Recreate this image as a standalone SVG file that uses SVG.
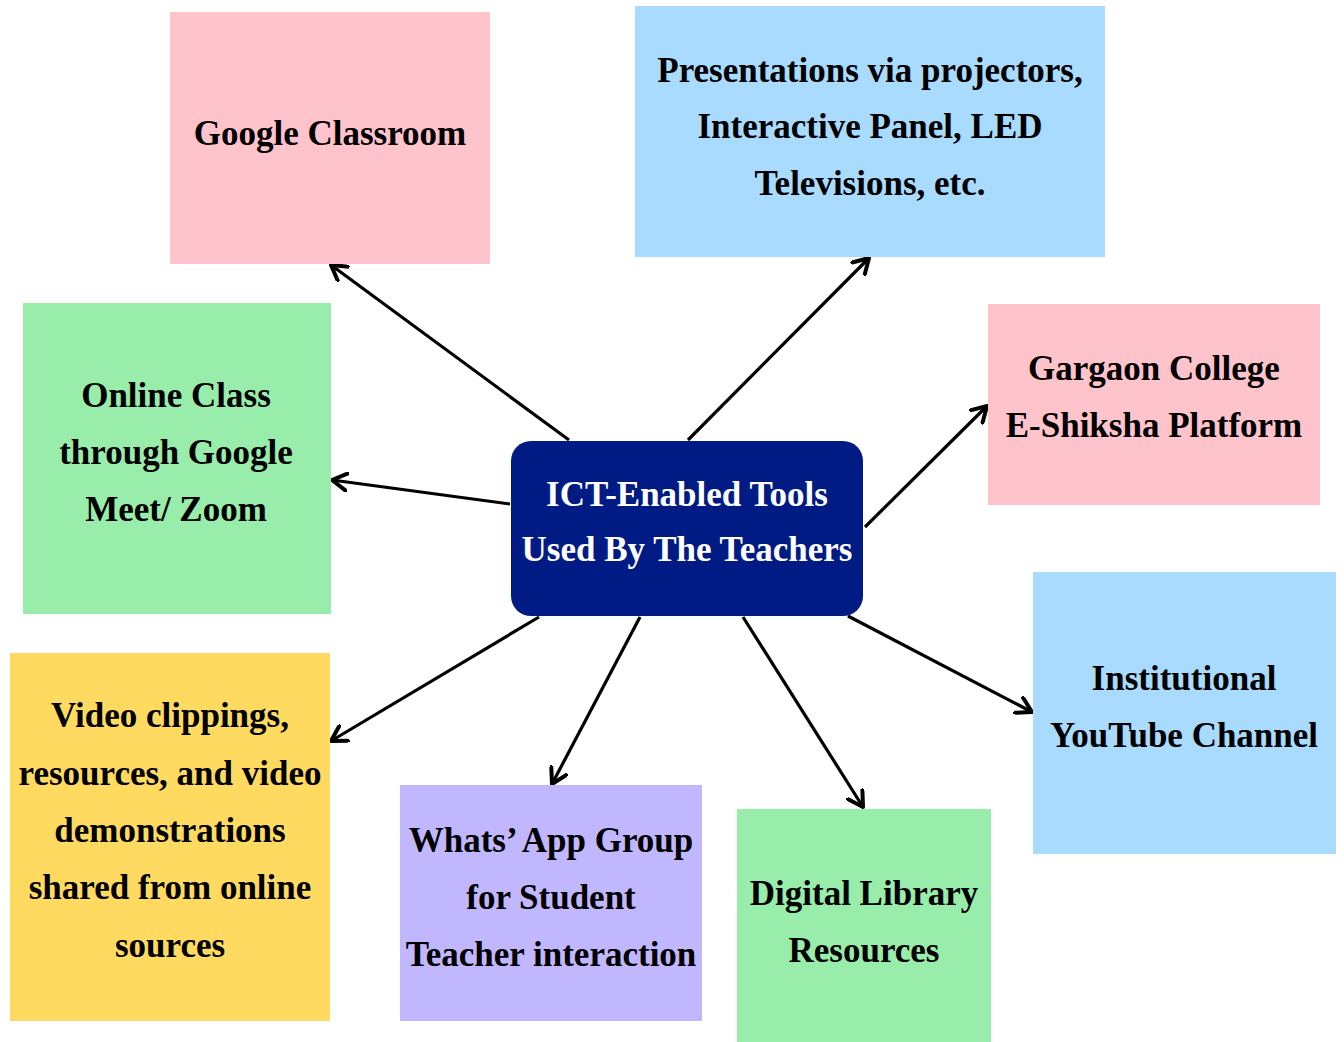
<svg xmlns="http://www.w3.org/2000/svg" width="1344" height="1042" viewBox="0 0 1344 1042">
<style>
.t{font-family:"Liberation Serif","Times New Roman",serif;font-weight:bold;font-size:35px;fill:#000;text-anchor:middle}
.w{fill:#fff}
.c{stroke:#000;stroke-width:3.2;fill:none}
</style>
<defs>
<marker id="ah" markerUnits="userSpaceOnUse" markerWidth="20" markerHeight="20" refX="13" refY="8" orient="auto" viewBox="0 0 16 16">
<path d="M1,1 L13,8 L1,15" fill="none" stroke="#000" stroke-width="3.2" stroke-linecap="round" stroke-linejoin="round"/>
</marker>
</defs>
<rect width="1344" height="1042" fill="#fff"/>
<g id="connectors">
<line class="c" x1="569" y1="440" x2="331" y2="265" marker-end="url(#ah)"/>
<line class="c" x1="688" y1="440" x2="869" y2="258" marker-end="url(#ah)"/>
<line class="c" x1="865" y1="527" x2="987" y2="406" marker-end="url(#ah)"/>
<line class="c" x1="848" y1="616" x2="1032" y2="712" marker-end="url(#ah)"/>
<line class="c" x1="743" y1="617" x2="863" y2="807" marker-end="url(#ah)"/>
<line class="c" x1="640" y1="617" x2="552" y2="784" marker-end="url(#ah)"/>
<line class="c" x1="539" y1="617" x2="331" y2="741" marker-end="url(#ah)"/>
<line class="c" x1="510" y1="504" x2="332" y2="480" marker-end="url(#ah)"/>
</g>
<g id="center">
<rect x="511" y="441" width="352" height="175" rx="20" fill="#001C84"/>
<text class="t w" x="687" y="506">ICT-Enabled Tools</text>
<text class="t w" x="687" y="561">Used By The Teachers</text>
</g>
<g id="google-classroom">
<rect x="170" y="12" width="320" height="252" fill="#FFC3CB"/>
<text class="t" x="330" y="145">Google Classroom</text>
</g>
<g id="presentations">
<rect x="635" y="6" width="470" height="251" fill="#A9DBFF"/>
<text class="t" x="870" y="82">Presentations via projectors,</text>
<text class="t" x="870" y="138">Interactive Panel, LED</text>
<text class="t" x="870" y="195">Televisions, etc.</text>
</g>
<g id="gargaon">
<rect x="988" y="304" width="332" height="201" fill="#FFC3CB"/>
<text class="t" x="1154" y="380">Gargaon College</text>
<text class="t" x="1154" y="437">E-Shiksha Platform</text>
</g>
<g id="youtube">
<rect x="1033" y="572" width="303" height="282" fill="#A9DBFF"/>
<text class="t" x="1184" y="690">Institutional</text>
<text class="t" x="1184" y="747">YouTube Channel</text>
</g>
<g id="digital-library">
<rect x="737" y="809" width="254" height="233" fill="#98EDAA"/>
<text class="t" x="864" y="905">Digital Library</text>
<text class="t" x="864" y="962">Resources</text>
</g>
<g id="whatsapp">
<rect x="400" y="785" width="302" height="236" fill="#C1B7FF"/>
<text class="t" x="551" y="852">Whats’ App Group</text>
<text class="t" x="551" y="909">for Student</text>
<text class="t" x="551" y="966">Teacher interaction</text>
</g>
<g id="video">
<rect x="10" y="653" width="320" height="368" fill="#FFDA60"/>
<text class="t" x="170" y="727">Video clippings,</text>
<text class="t" x="170" y="785">resources, and video</text>
<text class="t" x="170" y="842">demonstrations</text>
<text class="t" x="170" y="899">shared from online</text>
<text class="t" x="170" y="957">sources</text>
</g>
<g id="online-class">
<rect x="23" y="303" width="308" height="311" fill="#98EDAA"/>
<text class="t" x="176" y="407">Online Class</text>
<text class="t" x="176" y="464">through Google</text>
<text class="t" x="176" y="521">Meet/ Zoom</text>
</g>
</svg>
